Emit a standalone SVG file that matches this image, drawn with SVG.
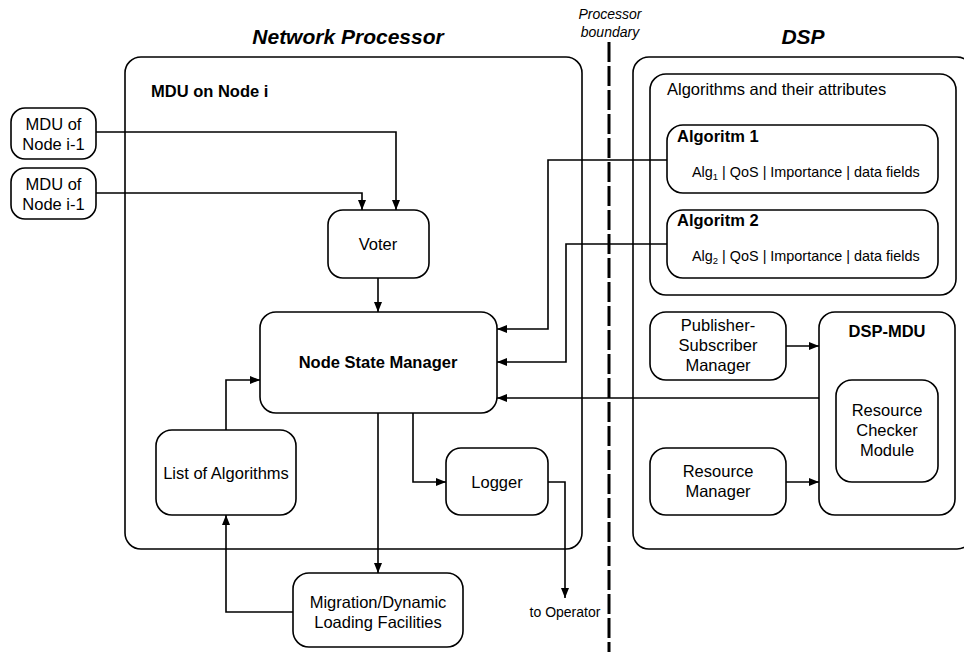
<svg xmlns="http://www.w3.org/2000/svg" width="964" height="652" viewBox="0 0 964 652">
  <style>
    text { font-family: "Liberation Sans", Arial, sans-serif; font-size: 16.5px; fill: #000; }
    .c { text-anchor: middle; }
    .b { font-weight: bold; }
    .title { font-size: 21px; font-weight: bold; font-style: italic; text-anchor: middle; }
    .it { font-size: 14px; font-style: italic; text-anchor: middle; }
    .attr { font-size: 14.4px; }
    .sub { font-size: 9.5px; }
    .box { fill: #fff; stroke: #000; stroke-width: 1.6; }
    .frame { fill: none; stroke: #000; stroke-width: 1.6; }
    .wire { fill: none; stroke: #000; stroke-width: 1.6; }
    .arrow { fill: none; stroke: #000; stroke-width: 1.6; marker-end: url(#head); }
    .boundary { fill: none; stroke: #000; stroke-width: 3; stroke-dasharray: 20 4; }
  </style>
  <defs>
    <marker id="head" markerUnits="userSpaceOnUse" markerWidth="10" markerHeight="10" viewBox="0 0 10 10" refX="10" refY="5" orient="auto">
      <path d="M0,1 L10,5 L0,9 z" fill="#000"/>
    </marker>
  </defs>

  <rect width="964" height="652" fill="#fff"/>

  <!-- section titles -->
  <text class="title" x="348" y="44">Network Processor</text>
  <text class="title" x="803" y="44">DSP</text>
  <text class="it" x="610" y="19">Processor</text>
  <text class="it" x="610" y="37">boundary</text>

  <!-- containers -->
  <g id="mdu-node-i">
    <rect class="frame" x="125" y="57" width="457" height="492" rx="16"/>
    <text class="b" x="151" y="97">MDU on Node i</text>
  </g>
  <g id="dsp">
    <rect class="frame" x="633" y="57" width="340" height="492" rx="16"/>
  </g>
  <g id="algorithms-attributes">
    <rect class="frame" x="650" y="74" width="306" height="221" rx="16"/>
    <text x="667" y="95">Algorithms and their attributes</text>
  </g>

  <!-- connectors -->
  <g id="connectors">
    <path class="arrow" d="M96,132 H396 V210"/>
    <path class="arrow" d="M96,193 H362 V210"/>
    <path class="arrow" d="M378,278 V312"/>
    <path class="arrow" d="M226,430 V380 H260"/>
    <path class="arrow" d="M378,413 V573"/>
    <path class="arrow" d="M293,612 H226 V515"/>
    <path class="arrow" d="M413,413 V482 H446"/>
    <path class="arrow" d="M548,482 H565 V598"/>
    <path class="arrow" d="M667,160 H548 V329 H497"/>
    <path class="arrow" d="M667,244 H566 V362 H497"/>
    <path class="arrow" d="M819,398 H497"/>
    <path class="arrow" d="M786,346 H819"/>
    <path class="arrow" d="M786,482 H819"/>
    <path class="boundary" d="M609,42 V652"/>
  </g>

  <!-- nodes -->
  <g id="mdu-prev-1">
    <rect class="box" x="11" y="108" width="85" height="51" rx="14"/>
    <text class="c" x="53.5" y="130">MDU of</text>
    <text class="c" x="53.5" y="150">Node i-1</text>
  </g>
  <g id="mdu-prev-2">
    <rect class="box" x="11" y="168" width="85" height="51" rx="14"/>
    <text class="c" x="53.5" y="190">MDU of</text>
    <text class="c" x="53.5" y="210">Node i-1</text>
  </g>
  <g id="voter">
    <rect class="box" x="328" y="210" width="101" height="68" rx="15"/>
    <text class="c" x="378" y="250">Voter</text>
  </g>
  <g id="node-state-manager">
    <rect class="box" x="260" y="312" width="237" height="101" rx="16"/>
    <text class="c b" x="378" y="368">Node State Manager</text>
  </g>
  <g id="list-of-algorithms">
    <rect class="box" x="156" y="430" width="140" height="85" rx="16"/>
    <text class="c" x="226" y="479">List of Algorithms</text>
  </g>
  <g id="logger">
    <rect class="box" x="446" y="448" width="102" height="67" rx="15"/>
    <text class="c" x="497" y="488">Logger</text>
  </g>
  <g id="to-operator">
    <text class="c" x="565" y="617" style="font-size:14px">to Operator</text>
  </g>
  <g id="migration">
    <rect class="box" x="293" y="573" width="170" height="74" rx="16"/>
    <text class="c" x="378" y="608">Migration/Dynamic</text>
    <text class="c" x="378" y="628">Loading Facilities</text>
  </g>
  <g id="algoritm-1">
    <rect class="box" x="667" y="125" width="271" height="68" rx="16"/>
    <text class="b" x="677" y="142">Algoritm 1</text>
    <text class="attr" x="692" y="177">Alg<tspan class="sub" dy="3">1</tspan><tspan dy="-3"> | QoS | Importance | data fields</tspan></text>
  </g>
  <g id="algoritm-2">
    <rect class="box" x="667" y="210" width="271" height="68" rx="16"/>
    <text class="b" x="677" y="226">Algoritm 2</text>
    <text class="attr" x="692" y="261">Alg<tspan class="sub" dy="3">2</tspan><tspan dy="-3"> | QoS | Importance | data fields</tspan></text>
  </g>
  <g id="publisher-subscriber-manager">
    <rect class="box" x="650" y="312" width="136" height="68" rx="16"/>
    <text class="c" x="718" y="331">Publisher-</text>
    <text class="c" x="718" y="351">Subscriber</text>
    <text class="c" x="718" y="371">Manager</text>
  </g>
  <g id="resource-manager">
    <rect class="box" x="650" y="448" width="136" height="67" rx="16"/>
    <text class="c" x="718" y="477">Resource</text>
    <text class="c" x="718" y="497">Manager</text>
  </g>
  <g id="dsp-mdu">
    <rect class="box" x="819" y="312" width="136" height="203" rx="16"/>
    <text class="c b" x="887" y="337">DSP-MDU</text>
  </g>
  <g id="resource-checker-module">
    <rect class="box" x="836" y="380" width="102" height="102" rx="16"/>
    <text class="c" x="887" y="416">Resource</text>
    <text class="c" x="887" y="436">Checker</text>
    <text class="c" x="887" y="456">Module</text>
  </g>
</svg>
